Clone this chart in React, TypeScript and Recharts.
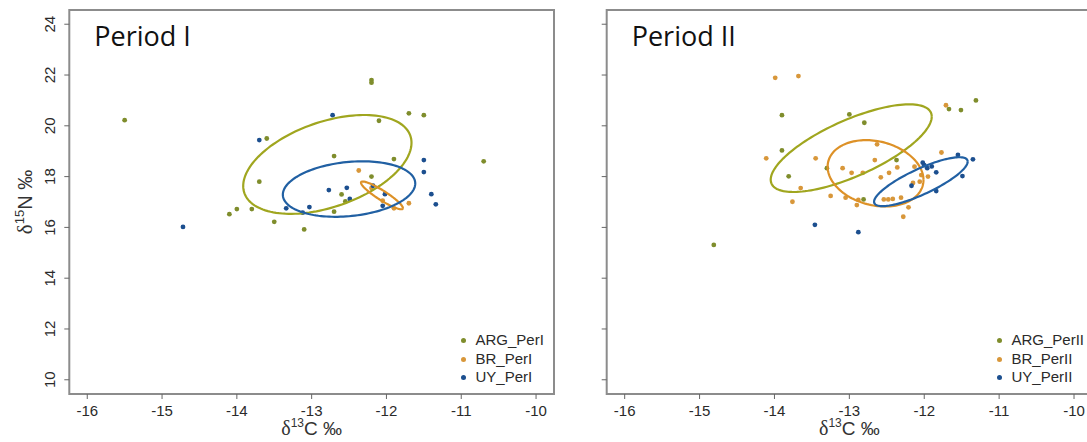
import React from 'react';
import { ScatterChart, Scatter, XAxis, YAxis, ReferenceArea, Legend } from 'recharts';

const X_TICKS = [-16, -15, -14, -13, -12, -11, -10];
const Y_TICKS = [10, 12, 14, 16, 18, 20, 22, 24];
const X_DOMAIN: [number, number] = [-16.24, -9.76];
const Y_DOMAIN: [number, number] = [9.44, 24.56];

const PANEL_TITLES = ['Period I', 'Period II'];
const NAMES_P1 = ['ARG_PerI', 'BR_PerI', 'UY_PerI'];
const NAMES_P2 = ['ARG_PerII', 'BR_PerII', 'UY_PerII'];

// Period I
const argPer1 = [
  { x: -15.5, y: 20.22 }, { x: -12.2, y: 21.8 }, { x: -12.2, y: 21.7 }, { x: -11.7, y: 20.49 },
  { x: -11.5, y: 20.42 }, { x: -12.1, y: 20.2 }, { x: -13.6, y: 19.5 }, { x: -12.7, y: 18.81 },
  { x: -11.9, y: 18.69 }, { x: -10.7, y: 18.6 }, { x: -13.7, y: 17.8 }, { x: -12.2, y: 18.0 },
  { x: -12.6, y: 17.3 }, { x: -12.55, y: 17.02 }, { x: -12.7, y: 16.62 }, { x: -13.8, y: 16.72 },
  { x: -14.0, y: 16.72 }, { x: -14.1, y: 16.52 }, { x: -13.5, y: 16.22 }, { x: -13.1, y: 15.92 },
];
const brPer1 = [
  { x: -12.37, y: 18.24 }, { x: -11.7, y: 16.95 }, { x: -11.9, y: 16.75 }, { x: -12.05, y: 17.05 },
  { x: -12.2, y: 17.55 },
];
const uyPer1 = [
  { x: -14.72, y: 16.02 }, { x: -13.7, y: 19.44 }, { x: -12.72, y: 20.42 }, { x: -11.5, y: 18.65 },
  { x: -11.5, y: 18.18 }, { x: -11.4, y: 17.31 }, { x: -11.34, y: 16.91 }, { x: -12.77, y: 17.47 },
  { x: -12.53, y: 17.56 }, { x: -12.49, y: 17.12 }, { x: -12.18, y: 17.64 }, { x: -12.02, y: 17.31 },
  { x: -12.05, y: 16.85 }, { x: -13.03, y: 16.8 }, { x: -13.12, y: 16.58 }, { x: -13.34, y: 16.75 },
];

// Period II
const argPer2 = [
  { x: -14.81, y: 15.31 }, { x: -13.9, y: 20.42 }, { x: -13.0, y: 20.45 }, { x: -12.8, y: 20.12 },
  { x: -13.9, y: 19.03 }, { x: -13.81, y: 18.01 }, { x: -13.3, y: 18.33 }, { x: -12.81, y: 17.1 },
  { x: -11.67, y: 20.66 }, { x: -11.51, y: 20.62 }, { x: -11.31, y: 21.0 }, { x: -12.37, y: 18.65 },
];
const brPer2 = [
  { x: -13.99, y: 21.89 }, { x: -13.68, y: 21.96 }, { x: -11.71, y: 20.81 }, { x: -14.11, y: 18.72 },
  { x: -13.45, y: 18.72 }, { x: -12.66, y: 18.65 }, { x: -12.63, y: 19.27 }, { x: -13.09, y: 18.33 },
  { x: -12.97, y: 18.15 }, { x: -12.82, y: 18.15 }, { x: -12.58, y: 17.97 }, { x: -12.47, y: 18.15 },
  { x: -12.36, y: 18.36 }, { x: -12.13, y: 18.39 }, { x: -12.04, y: 18.06 }, { x: -12.06, y: 17.8 },
  { x: -11.77, y: 18.95 }, { x: -13.65, y: 17.55 }, { x: -13.76, y: 17.01 }, { x: -13.25, y: 17.24 },
  { x: -13.05, y: 17.17 }, { x: -12.88, y: 17.08 }, { x: -12.9, y: 16.88 }, { x: -12.54, y: 17.1 },
  { x: -12.48, y: 17.1 }, { x: -12.42, y: 17.12 }, { x: -12.31, y: 17.17 }, { x: -12.21, y: 16.79 },
  { x: -12.28, y: 16.42 }, { x: -11.95, y: 18.0 }, { x: -12.15, y: 17.75 },
];
const uyPer2 = [
  { x: -13.46, y: 16.1 }, { x: -12.88, y: 15.81 }, { x: -12.02, y: 18.55 }, { x: -11.9, y: 18.4 },
  { x: -11.84, y: 18.17 }, { x: -11.55, y: 18.85 }, { x: -11.35, y: 18.68 }, { x: -11.49, y: 18.02 },
  { x: -12.17, y: 17.64 }, { x: -11.84, y: 17.43 }, { x: -11.96, y: 18.33 }, { x: -12.0, y: 18.45 },
];

// Standard ellipses: centre, half-width in x, y-offset at the rightmost point, half vertical chord at centre
const ellArg1 = { cx: -12.79, cy: 18.48, rx: 1.125, ry0: 0.85, h: 1.75 };
const ellBr1 = { cx: -12.06, cy: 17.26, rx: 0.28, ry0: -0.5, h: 0.22 };
const ellUy1 = { cx: -12.5, cy: 17.51, rx: 0.885, ry0: 0.22, h: 1.07 };
const ellArg2 = { cx: -12.975, cy: 19.12, rx: 1.075, ry0: 1.24, h: 1.2 };
const ellBr2 = { cx: -12.65, cy: 18.13, rx: 0.64, ry0: -0.26, h: 1.28 };
const ellUy2 = { cx: -12.045, cy: 17.8, rx: 0.625, ry0: 0.79, h: 0.55 };

const POINT_COLORS = ['#7f8d2c', '#d8973a', '#1c4f8f'];
const ELLIPSE_COLORS = ['#a0a61f', '#dd9127', '#2160a3'];

type Ell = { cx: number; cy: number; rx: number; ry0: number; h: number };
function ellipsePoints(e: Ell) {
  const pts: { x: number; y: number }[] = [];
  const n = 144;
  for (let i = 0; i <= n; i++) {
    const t = (i / n) * 2 * Math.PI;
    pts.push({ x: e.cx + e.rx * Math.cos(t), y: e.cy + e.ry0 * Math.cos(t) + e.h * Math.sin(t) });
  }
  return pts;
}

const SANS = '"Liberation Sans", Arial, sans-serif';

const YTick = (props: any) => {
  const { x, y, payload } = props;
  const cx = x - 13;
  return (
    <text x={cx} y={y} transform={`rotate(-90 ${cx} ${y})`} textAnchor="middle" dominantBaseline="central"
      fontFamily={SANS} fontSize={15} fill="#2a2a2a">
      {payload.value}
    </text>
  );
};
const EmptyTick = () => <g />;

const XTitle = (props: any) => {
  const vb = props.viewBox || { x: 0, width: 0 };
  return (
    <text x={vb.x + vb.width / 2} y={435} textAnchor="middle" fontFamily={SANS} fontSize={19} fill="#333">
      <tspan fontFamily='"Liberation Serif", serif' fontSize={20}>δ</tspan>
      <tspan fontSize={12} dy={-8}>13</tspan>
      <tspan dy={8}>C ‰</tspan>
    </text>
  );
};

const YTitle = (props: any) => {
  const vb = props.viewBox || { y: 0, height: 0 };
  const cy = vb.y + vb.height / 2;
  return (
    <text transform={`translate(32 ${cy}) rotate(-90)`} textAnchor="middle" fontFamily={SANS} fontSize={20} fill="#333">
      <tspan fontFamily='"Liberation Serif", serif' fontSize={21}>δ</tspan>
      <tspan fontSize={13} dy={-8}>15</tspan>
      <tspan dy={8}>N ‰</tspan>
    </text>
  );
};

const PanelTitle = (props: any) => {
  const vb = props.viewBox || { x: 0, y: 0 };
  return (
    <text x={vb.x + 25} y={vb.y + 35.5} fontFamily='"Open Sans", sans-serif' fontSize={27} fill="#111">
      {props.text}
    </text>
  );
};

const makeLegend = (names: string[]) => () => (
  <div style={{ fontFamily: SANS, fontSize: 15, color: '#2a2a2a' }}>
    {names.map((n, i) => (
      <div key={n} style={{ position: 'relative', height: 18.5, whiteSpace: 'nowrap' }}>
        <span style={{ position: 'absolute', left: 0, top: 6.75, width: 5, height: 5, borderRadius: 3, background: POINT_COLORS[i] }} />
        <span style={{ position: 'absolute', left: 15, top: 0, lineHeight: '18.5px' }}>{n}</span>
      </div>
    ))}
  </div>
);

const dot = (color: string) => (p: any) => <circle cx={p.cx} cy={p.cy} r={2.4} fill={color} />;
const noShape = () => <g />;

type PanelProps = {
  title: string;
  names: string[];
  series: { x: number; y: number }[][];
  ellipses: Ell[];
  width: number;
  yAxisWidth: number;
  marginRight: number;
  showYLabels: boolean;
  legendLeft: number;
};

function Panel(p: PanelProps) {
  return (
    <ScatterChart width={p.width} height={442} margin={{ top: 10, right: p.marginRight, bottom: 0, left: 0 }}>
      <XAxis type="number" dataKey="x" domain={X_DOMAIN} ticks={X_TICKS} allowDataOverflow
        height={48} tickSize={5} tickMargin={6} axisLine={false}
        tickLine={{ stroke: '#666' }} tick={{ fontFamily: SANS, fontSize: 15, fill: '#2a2a2a' }}
        label={<XTitle />} />
      <YAxis type="number" dataKey="y" domain={Y_DOMAIN} ticks={Y_TICKS} allowDataOverflow
        width={p.yAxisWidth} tickSize={5} tickMargin={2} axisLine={false}
        tickLine={{ stroke: '#666' }} tick={p.showYLabels ? <YTick /> : <EmptyTick />}
        label={p.showYLabels ? <YTitle /> : undefined} />
      <ReferenceArea x1={X_DOMAIN[0]} x2={X_DOMAIN[1]} y1={Y_DOMAIN[0]} y2={Y_DOMAIN[1]} ifOverflow="visible"
        fill="none" fillOpacity={0} stroke="#8c8c8c" strokeWidth={2}
        label={<PanelTitle text={p.title} />} />
      {p.series.map((d, i) => (
        <Scatter key={p.names[i]} name={p.names[i]} data={d} fill={POINT_COLORS[i]}
          shape={dot(POINT_COLORS[i])} isAnimationActive={false} />
      ))}
      {p.ellipses.map((e, i) => (
        <Scatter key={'e' + i} name={'ellipse' + i} data={ellipsePoints(e)} legendType="none"
          line={{ stroke: ELLIPSE_COLORS[i], strokeWidth: 2.2 }} lineType="joint"
          shape={noShape} isAnimationActive={false} />
      ))}
      <Legend layout="vertical" align="center" verticalAlign="middle" content={makeLegend(p.names)}
        wrapperStyle={{ left: p.legendLeft, top: 331.25, width: 110, height: 56 }} />
    </ScatterChart>
  );
}

export default function App() {
  return (
    <div style={{ position: 'fixed', left: 0, top: 0, width: 1087, height: 442, overflow: 'hidden', background: '#fff' }}>
      <div style={{ position: 'absolute', left: 0, top: 0 }}>
        <Panel title={PANEL_TITLES[0]} names={NAMES_P1} series={[argPer1, brPer1, uyPer1]}
          ellipses={[ellArg1, ellBr1, ellUy1]} width={560} yAxisWidth={69.3} marginRight={6}
          showYLabels legendLeft={460.5} />
      </div>
      <div style={{ position: 'absolute', left: 560, top: 0 }}>
        <Panel title={PANEL_TITLES[1]} names={NAMES_P2} series={[argPer2, brPer2, uyPer2]}
          ellipses={[ellArg2, ellBr2, ellUy2]} width={532} yAxisWidth={46.7} marginRight={0}
          showYLabels={false} legendLeft={436.5} />
      </div>
    </div>
  );
}
